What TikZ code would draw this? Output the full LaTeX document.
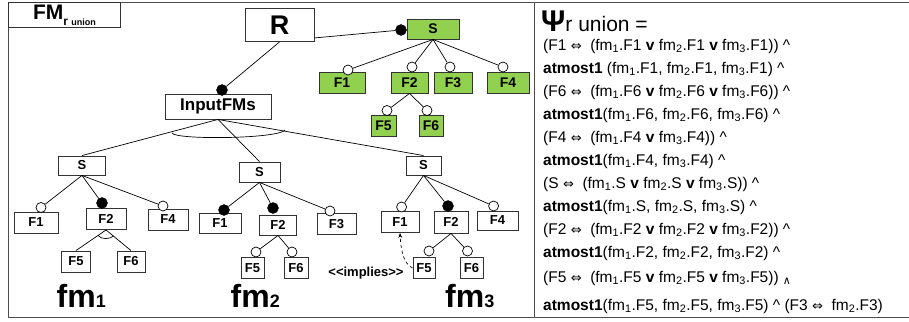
\documentclass[tikz,border=0pt]{standalone}
\usepackage{fontspec}
\setmainfont{Liberation Sans}
\newfontfamily\symfont{DejaVu Sans}
\usepackage{tikz}
\usetikzlibrary{arrows.meta}

\definecolor{featgreen}{RGB}{146,208,80}
\newcommand{\pxfont}[1]{\fontsize{#1}{#1}\selectfont}
\newcommand{\fm}[1]{fm\textsubscript{#1}}
\newcommand{\eqv}{{\symfont\pxfont{13}⇔}}
\newcommand{\orv}{\textbf{v}}
\newcommand{\andc}{\textasciicircum}

\begin{document}
\begin{tikzpicture}[x=1pt, y=-1pt,
    every node/.style={inner sep=0pt},
    box/.style 2 args={minimum width=#1pt, minimum height=#2pt},
    feat/.style={draw=black!80, line width=0.9pt, fill=white, font=\bfseries\pxfont{13}},
    gfeat/.style={feat, fill=featgreen, font=\bfseries\pxfont{14}},
    opt/.style={draw, circle, fill=white, minimum size=10pt, line width=0.7pt},
    mand/.style={draw, circle, fill=black, minimum size=11pt},
    edge/.style={line width=0.7pt},
    fmlabel/.style={anchor=base west, font=\bfseries\pxfont{32}},
    formula/.style={anchor=base west, font=\pxfont{15.5}}]
  \useasboundingbox (0,0) rectangle (909,321);

  % Marco
  \draw[black!70, line width=1pt] (909,2.5) -- (8,2.5) -- (8,317.5) -- (909,317.5);
  \draw[black!70, line width=1pt] (534,2.5) -- (534,317.5);
  \node[feat, box={112}{25}, anchor=north west, font=\bfseries] (title) at (8,2.5)
    {\pxfont{21}FM\raisebox{-6pt}{\pxfont{12}r \pxfont{9}union}};

  % Nodos
  \node[feat, box={69}{33}, font=\bfseries\pxfont{27}] (R) at (279.5,25) {R};
  \node[feat, box={106}{25}, font=\bfseries\pxfont{17}] (ifm) at (218,106.5) {InputFMs};

  \node[gfeat, box={52}{20}] (gs) at (433,29) {S};
  \node[gfeat, box={46}{21}] (g1) at (342,82.5) {F1};
  \node[gfeat, box={37}{21}] (g2) at (409.5,82.5) {F2};
  \node[gfeat, box={38}{21}] (g3) at (453,82.5) {F3};
  \node[gfeat, box={42}{21}] (g4) at (508,82.5) {F4};
  \node[gfeat, box={25}{21}] (g5) at (383.5,125.5) {F5};
  \node[gfeat, box={24}{21}] (g6) at (431,125.5) {F6};

  \node[feat, box={47}{19}] (s1) at (82,165.5) {S};
  \node[feat, box={44}{21}] (f11) at (36,222.5) {F1};
  \node[feat, box={40}{21}] (f12) at (106,219) {F2};
  \node[feat, box={40}{21}] (f14) at (168,219.5) {F4};
  \node[feat, box={29}{21}] (f15) at (76,261.5) {F5};
  \node[feat, box={28}{21}] (f16) at (131,261.5) {F6};

  \node[feat, box={41}{20}] (s2) at (259.5,172) {S};
  \node[feat, box={42}{20}] (f21) at (220,223) {F1};
  \node[feat, box={37}{20}] (f22) at (278,225) {F2};
  \node[feat, box={39}{21}] (f23) at (336.5,224) {F3};
  \node[feat, box={23}{21}] (f25) at (252.5,268) {F5};
  \node[feat, box={24}{21}] (f26) at (296,268) {F6};

  \node[feat, box={35}{19}] (s3) at (423.5,165.5) {S};
  \node[feat, box={38}{21}] (f31) at (400,222) {F1};
  \node[feat, box={34}{22}] (f32) at (451,222) {F2};
  \node[feat, box={41}{19}] (f34) at (497.5,220.5) {F4};
  \node[feat, box={22}{21}] (f35) at (424,268) {F5};
  \node[feat, box={23}{21}] (f36) at (471.5,268) {F6};

  % Circulos
  \node[mand] (ic) at (222,90) {};
  \node[mand] (gcs) at (401,30) {};
  \node[opt] (gc1) at (348,70) {};
  \node[opt] (gc2) at (412,67) {};
  \node[opt] (gc3) at (450,67) {};
  \node[opt] (gc4) at (503,67) {};
  \node[opt] (gc5) at (387,110.5) {};
  \node[opt] (gc6) at (427,110.5) {};

  \node[opt] (c11) at (41,207.5) {};
  \node[mand] (c12) at (102,203) {};
  \node[opt] (c14) at (163,206) {};

  \node[mand] (c21) at (224,210) {};
  \node[mand] (c22) at (273,208) {};
  \node[opt] (c23) at (330,211) {};
  \node[opt] (c25) at (256,252) {};
  \node[opt] (c26) at (292,252) {};

  \node[opt] (c31) at (401.6,207) {};
  \node[mand] (c32) at (448,206) {};
  \node[opt] (c34) at (493.6,206) {};
  \node[opt] (c35) at (429,251) {};
  \node[opt] (c36) at (467.5,251) {};

  % Aristas
  \draw[edge] (R.south) -- (ic);
  \draw[edge] ([yshift=4pt]R.south east) -- (gcs);
  \draw[edge] (gs.south) -- (gc1);
  \draw[edge] (gs.south) -- (gc2);
  \draw[edge] (gs.south) -- (gc3);
  \draw[edge] (gs.south) -- (gc4);
  \draw[edge] (g2.south) -- (gc5);
  \draw[edge] (g2.south) -- (gc6);

  \draw[edge] (ifm.south) -- (s1.north);
  \draw[edge] (ifm.south) -- (s2.north);
  \draw[edge] (ifm.south) -- (s3.north);
  \draw[edge] (172,133) .. controls (175,140) and (278,139) .. (285,130);

  \draw[edge] (s1.south) -- (c11);
  \draw[edge] (s1.south) -- (c12);
  \draw[edge] (s1.south) -- (c14);
  \draw[edge] (f12.south) -- (f15.north);
  \draw[edge] (f12.south) -- (f16.north);
  \draw[edge] (98,235.5) .. controls (101,239.5) and (110,239.5) .. (113.5,236);

  \draw[edge] (s2.south) -- (c21);
  \draw[edge] (s2.south) -- (c22);
  \draw[edge] (s2.south) -- (c23);
  \draw[edge] (f22.south) -- (c25);
  \draw[edge] (f22.south) -- (c26);

  \draw[edge] (s3.south) -- (c31);
  \draw[edge] (s3.south) -- (c32);
  \draw[edge] (s3.south) -- (c34);
  \draw[edge] (f32.south) -- (c35);
  \draw[edge] (f32.south) -- (c36);
  \draw[edge, dashed, -{Stealth[length=5pt, width=4pt]}]
    (f35.west) .. controls (404,264) and (401,252) .. (f31.south);
  \node[font=\bfseries\pxfont{13}] (imp) at (366,273.5) {<{}<implies>{}>};

  \node[fmlabel] (fm1) at (56.5,307) {fm\pxfont{18}1};
  \node[fmlabel] (fm2) at (230.5,307) {fm\pxfont{18}2};
  \node[fmlabel] (fm3) at (445,307) {fm\pxfont{18}3};

  % Formula
  \node[anchor=base west] (psi) at (541,32) {\bfseries\pxfont{30}Ψ\mdseries\pxfont{21}r union =};
  \node[formula] (l1) at (543,50) {(F1 \eqv\ \ (\fm1.F1 \orv\ \fm2.F1 \orv\ \fm3.F1)) \andc};
  \node[formula] (l2) at (543,73) {\textbf{atmost1} (\fm1.F1, \fm2.F1, \fm3.F1) \andc};
  \node[formula] (l3) at (543,96) {(F6 \eqv\ \ (\fm1.F6 \orv\ \fm2.F6 \orv\ \fm3.F6)) \andc};
  \node[formula] (l4) at (543,119) {\textbf{atmost1}(\fm1.F6, \fm2.F6, \fm3.F6) \andc};
  \node[formula] (l5) at (543,142) {(F4 \eqv\ \ (\fm1.F4 \orv\ \fm3.F4)) \andc};
  \node[formula] (l6) at (543,165) {\textbf{atmost1}(\fm1.F4, \fm3.F4) \andc};
  \node[formula] (l7) at (543,188) {(S \eqv\ \ (\fm1.S \orv\ \fm2.S \orv\ \fm3.S)) \andc};
  \node[formula] (l8) at (543,211) {\textbf{atmost1}(\fm1.S, \fm2.S, \fm3.S) \andc};
  \node[formula] (l9) at (543,234) {(F2 \eqv\ \ (\fm1.F2 \orv\ \fm2.F2 \orv\ \fm3.F2)) \andc};
  \node[formula] (l10) at (543,257) {\textbf{atmost1}(\fm1.F2, \fm2.F2, \fm3.F2) \andc};
  \node[formula] (l11) at (543,282) {(F5 \eqv\ \ (\fm1.F5 \orv\ \fm2.F5 \orv\ \fm3.F5)) \raisebox{-2pt}{\symfont\pxfont{11}∧}};
  \node[formula] (l12) at (543,310) {\textbf{atmost1}(\fm1.F5, \fm2.F5, \fm3.F5) \andc\ (F3 \eqv\ \ \fm2.F3)};
\end{tikzpicture}
\end{document}
